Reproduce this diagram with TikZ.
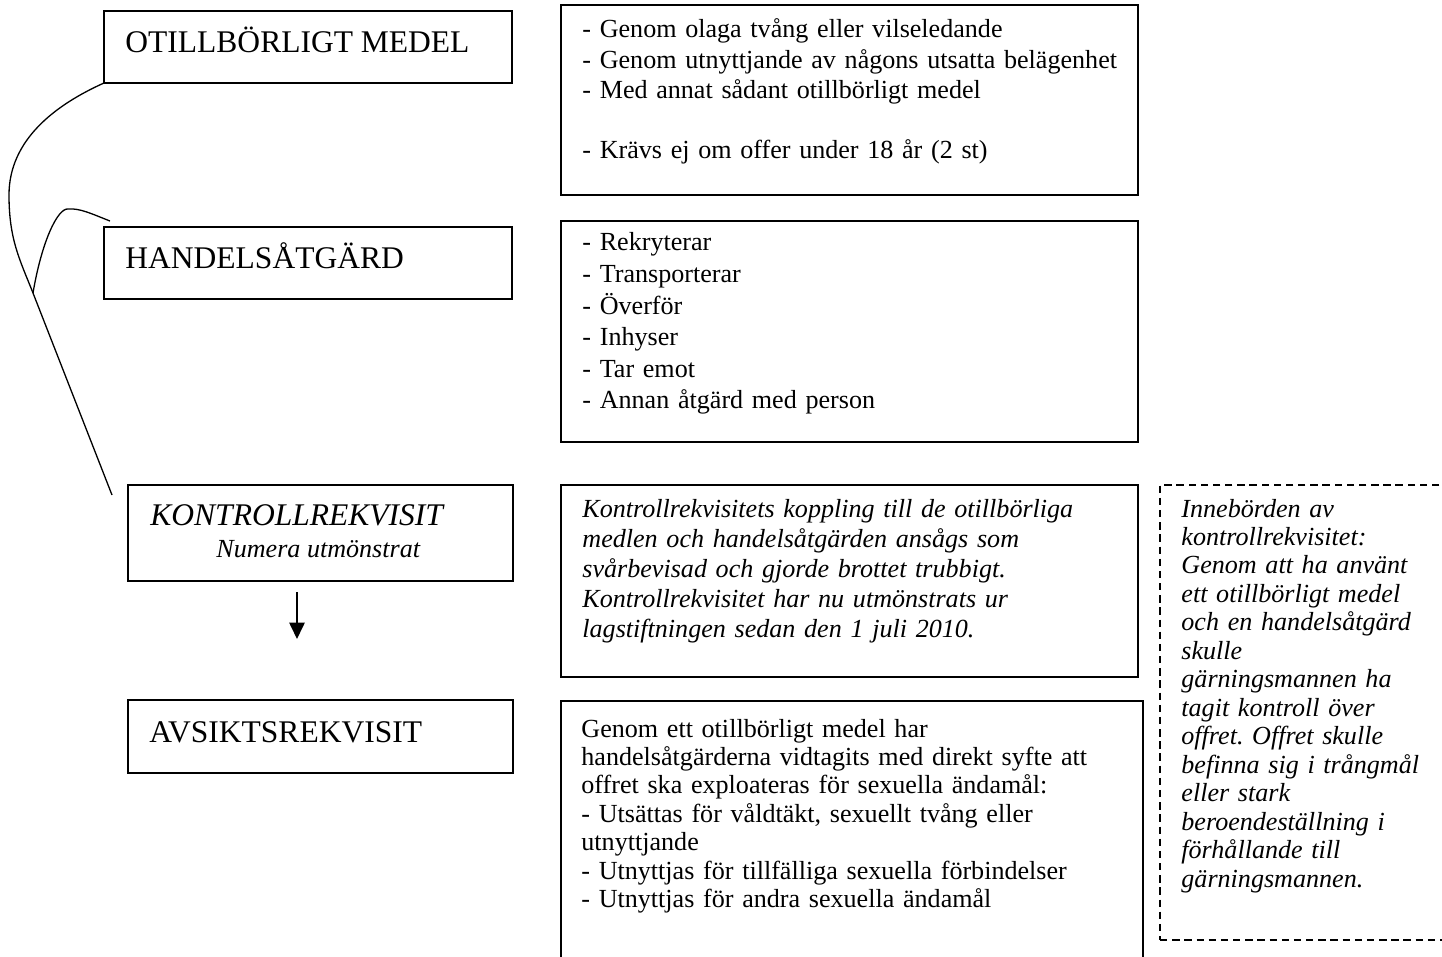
\documentclass[tikz,border=0pt]{standalone}
\usepackage{fontspec}
\setmainfont{Liberation Serif}
\usetikzlibrary{arrows.meta}
\frenchspacing

\newcommand{\pxl}{0.46pt}

\begin{document}
\begin{tikzpicture}[x=0.46pt, y=-0.46pt,
    box/.style={draw, line width=0.8pt, anchor=north west, inner sep=0pt, outer sep=0pt},
    notebox/.style={box, dash pattern=on 3.4pt off 2.2pt},
    head/.style={anchor=base west, inner sep=0pt, font=\fontsize{14.5}{17}\selectfont},
    body/.style={anchor=base west, inner sep=0pt, align=left, text width=270pt, font=\fontsize{12}{13.9}\selectfont},
    link/.style={line width=0.6pt}]
    \useasboundingbox (0,0) rectangle (1442,957);
    \clip (0,0) rectangle (1442,957);

    % Left column
    \node[box, minimum width=408*\pxl, minimum height=72*\pxl] (medel) at (104,11) {};
    \node[box, minimum width=408*\pxl, minimum height=72*\pxl] (handel) at (104,227) {};
    \node[box, minimum width=385*\pxl, minimum height=96*\pxl] (kontroll) at (128,485) {};
    \node[box, minimum width=385*\pxl, minimum height=73*\pxl] (avsikt) at (128,700) {};

    \node[head] (medeltxt) at (125,53) {OTILLBÖRLIGT MEDEL};
    \node[head] (handeltxt) at (125,269) {HANDELSÅTGÄRD};
    \node[head, font=\fontsize{14.5}{17}\selectfont\itshape] (kontrolltxt) at (150,525) {KONTROLLREKVISIT};
    \node[head, font=\fontsize{12}{14}\selectfont\itshape] (numera) at (216,557) {Numera utmönstrat};
    \node[head] (avsikttxt) at (149,742) {AVSIKTSREKVISIT};

    % Right column
    \node[box, minimum width=577*\pxl, minimum height=190*\pxl] (medlen) at (561,5) {};
    \node[box, minimum width=577*\pxl, minimum height=221*\pxl] (atgarder) at (561,221) {};
    \node[box, minimum width=577*\pxl, minimum height=192*\pxl] (koppling) at (561,485) {};
    \node[box, minimum width=582*\pxl, minimum height=300*\pxl] (syfte) at (561,701) {};
    \node[notebox, minimum width=320*\pxl, minimum height=455*\pxl] (innebord) at (1160,485) {};

    \node[body] (medlentxt) at (582,38) {- Genom olaga tvång eller vilseledande\\
        - Genom utnyttjande av någons utsatta belägenhet\\
        - Med annat sådant otillbörligt medel\\[13.9pt]
        - Krävs ej om offer under 18 år (2 st)};
    \node[body, font=\fontsize{12}{14.5}\selectfont] (atgardertxt) at (582,251) {- Rekryterar\\
        - Transporterar\\
        - Överför\\
        - Inhyser\\
        - Tar emot\\
        - Annan åtgärd med person};
    \node[body, font=\fontsize{12}{13.9}\selectfont\itshape] (kopplingtxt) at (582,517) {Kontrollrekvisitets koppling till de otillbörliga\\
        medlen och handelsåtgärden ansågs som\\
        svårbevisad och gjorde brottet trubbigt.\\
        Kontrollrekvisitet har nu utmönstrats ur\\
        lagstiftningen sedan den 1 juli 2010.};
    \node[body, font=\fontsize{12}{13.1}\selectfont] (syftetxt) at (581,737) {Genom ett otillbörligt medel har\\
        handelsåtgärderna vidtagits med direkt syfte att\\
        offret ska exploateras för sexuella ändamål:\\
        - Utsättas för våldtäkt, sexuellt tvång eller\\
        utnyttjande\\
        - Utnyttjas för tillfälliga sexuella förbindelser\\
        - Utnyttjas för andra sexuella ändamål};
    \node[body, text width=130pt, font=\fontsize{12}{13.1}\selectfont\itshape] (innebordtxt) at (1181,517) {Innebörden av\\
        kontrollrekvisitet:\\
        Genom att ha använt\\
        ett otillbörligt medel\\
        och en handelsåtgärd\\
        skulle\\
        gärningsmannen ha\\
        tagit kontroll över\\
        offret. Offret skulle\\
        befinna sig i trångmål\\
        eller stark\\
        beroendeställning i\\
        förhållande till\\
        gärningsmannen.};

    % Curves
    \coordinate (hstart) at (110,221);
    \coordinate (kors) at (33,293);
    \coordinate (kslut) at (112,495);
    \draw[link] (medel.south west) .. controls (55,105) and (9,140) .. (9,195)
        .. controls (9,240) and (20,260) .. (kors) -- (kslut);
    \draw[link] (hstart) .. controls (92,214) and (80,208) .. (68,209)
        .. controls (58,208) and (42,240) .. (kors);

    % Arrow
    \coordinate (pilstart) at (297,592);
    \coordinate (pilslut) at (297,639);
    \draw[line width=0.9pt, -{Triangle[width=7pt, length=7.5pt]}] (pilstart) -- (pilslut);
\end{tikzpicture}
\end{document}
